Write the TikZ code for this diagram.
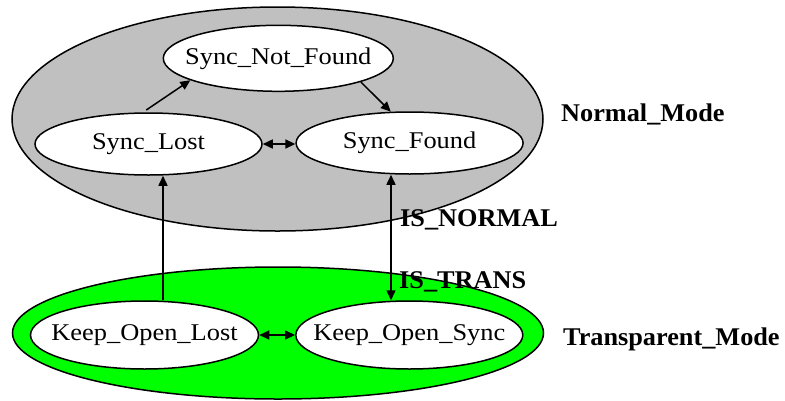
\documentclass[tikz,border=0pt]{standalone}
\usepackage{fontspec}
\setmainfont{Liberation Serif}[FakeStretch=1.03]
\newfontfamily\regf{Liberation Serif}[FakeStretch=1.1]
\usetikzlibrary{shapes.geometric,arrows.meta,calc}
\definecolor{modegray}{HTML}{C0C0C0}
\definecolor{modegreen}{HTML}{00FF00}
\newcommand{\ctext}[1]{\makebox[0pt]{#1}}
\tikzset{
  state/.style={ellipse, draw=black, fill=white, line width=1.5pt, inner sep=0pt,
    font=\regf\fontsize{24}{28}\selectfont},
  mode/.style={ellipse, draw=black, line width=1.5pt, inner sep=0pt},
  lbl/.style={anchor=base west, inner sep=0pt, font=\fontsize{25.5}{30}\selectfont\bfseries},
  arr/.style={line width=1.5pt, -{Triangle[length=10pt,width=9pt]}},
  darr/.style={line width=1.5pt, {Triangle[length=10pt,width=9pt]}-{Triangle[length=10pt,width=9pt]}}
}
\begin{document}
\begin{tikzpicture}[x=1pt,y=-1pt]
\useasboundingbox (0,0) rectangle (785,400);
% mode ellipses
\node[mode, fill=modegray, minimum width=531pt, minimum height=224pt] (normal) at (277.5,119) {};
\node[mode, fill=modegreen, minimum width=531pt, minimum height=132pt] (trans) at (278,333) {};
% states
\node[state, minimum width=230pt, minimum height=66pt] (snf) at (278.3,58.3) {\ctext{Sync\_Not\_Found}};
\node[state, minimum width=227pt, minimum height=62pt] (slost) at (148.5,144) {\ctext{Sync\_Lost}};
\node[state, minimum width=227pt, minimum height=62pt] (sfound) at (409.6,143) {\ctext{Sync\_Found}};
\node[state, minimum width=228pt, minimum height=68pt] (klost) at (144.5,335) {\ctext{Keep\_Open\_Lost}};
\node[state, minimum width=227pt, minimum height=68pt] (ksync) at (409.3,335) {\ctext{Keep\_Open\_Sync}};
% helper coordinates for vertical connectors
\coordinate (vL) at (163,0);
\coordinate (vR) at (391,0);
% connectors
\draw[arr, shorten <=4pt] (slost.100) -- (snf.194);
\draw[arr] (snf.344) -- (sfound.121);
\draw[darr] (slost.east) -- (slost.east -| sfound.west);
\draw[darr] (klost.east) -- (klost.east -| ksync.west);
\draw[arr] (klost.north -| vL) -- (slost.south -| vL);
\draw[darr] (sfound.south -| vR) -- (ksync.north -| vR);
% labels
\node[lbl] (lnormal) at (561,121.7) {Normal\_Mode};
\node[lbl] (ltrans) at (563,345) {Transparent\_Mode};
\node[lbl] (lisn) at (400,226) {IS\_NORMAL};
\node[lbl] (list) at (399,288) {IS\_TRANS};
\end{tikzpicture}
\end{document}
